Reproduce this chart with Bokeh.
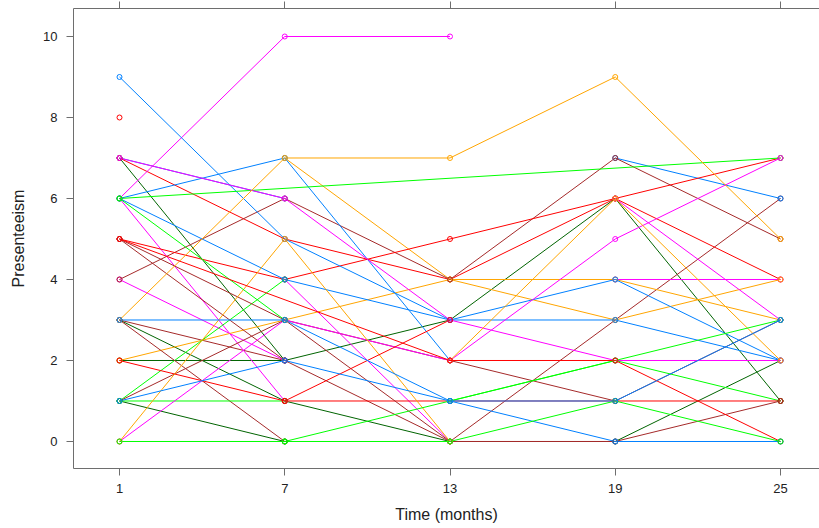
import math
from bokeh.plotting import figure
from bokeh.models import Range1d, LinearAxis, FixedTicker, ColumnDataSource
from bokeh.embed import file_html
from bokeh.resources import INLINE

N = None
# Observation times (months) and tick labels
times = [1, 7, 13, 19, 25]
y_ticks = [0, 2, 4, 6, 8, 10]

# Presenteeism per subject at each time (None = not observed)
t1 = [7, 3, 2, 1, 7, 3, N, 7, 4, N, 2, N, 4, 6, 6, 6, N, 5, 1, 9, 6, 3,
      1, 1, N, 2, 5, 5, N, 6, 0, 7, 0, 3, N, N, 6, 0, 5, 1, N, 3, 8]
t7 = [2, 1, 2, 0, 6, 2, N, 5, 2, N, 3, 7, 6, 7, 10, 1, 4, 4, 4, 5, 4, 0,
      3, 1, N, 1, 3, 2, N, N, 3, 6, 5, 7, N, 1, 3, 0, N, 2, 0, 3, N]
t13 = [3, 0, N, N, N, 0, N, 4, N, N, 4, 4, 4, 2, 10, N, 0, 5, N, 3, 3, N,
       2, N, 1, 1, 0, N, N, N, 2, 3, 0, 7, 2, 3, N, 1, 2, 1, 0, 1, N]
t19 = [6, 0, N, N, N, 3, 7, 6, N, 4, 4, 3, 7, N, N, N, N, 6, N, 3, 4, N,
       1, N, 2, 1, 0, N, 6, N, 5, 2, N, 9, 6, N, N, 2, 2, 0, 1, 1, N]
t25 = [1, 2, N, N, N, 6, 6, 4, N, 4, 3, 4, 5, N, N, N, N, 7, N, 2, 2, N,
       3, N, 1, 1, 1, N, 3, 7, 7, 2, N, 5, 2, N, N, 3, 0, 0, 0, 3, N]
# Group (superpose colour index) of each subject
group = [2, 2, 2, 2, 0, 6, 0, 3, 1, 1, 4, 4, 6, 0, 1, 1, 1, 3, 5, 0, 0, 6,
         6, 5, 5, 3, 6, 6, 1, 5, 1, 1, 4, 4, 4, 3, 5, 5, 3, 0, 5, 0, 3]

palette = ["#0080ff", "#ff00ff", "#006400", "#ff0000", "#ffa500", "#00ff00", "#a52a2a"]

xs, ys, cols = [], [], []
px, py, pc = [], [], []
for i in range(len(group)):
    vals = [t1[i], t7[i], t13[i], t19[i], t25[i]]
    sx = [t for t, v in zip(times, vals) if v is not None]
    sy = [v for v in vals if v is not None]
    c = palette[group[i]]
    if len(sx) > 1:
        xs.append(sx); ys.append(sy); cols.append(c)
    px.extend(sx); py.extend(sy); pc.extend([c] * len(sx))

p = figure(width=819, height=528, output_backend="svg", toolbar_location=None,
           x_range=Range1d(-0.6702, 26.416), y_range=Range1d(-0.6667, 10.691),
           x_axis_location=None, y_axis_location=None,
           min_border_left=73, min_border_right=0, min_border_top=8,
           min_border_bottom=60)
p.outline_line_color = None
p.grid.visible = False
p.background_fill_color = "white"
p.border_fill_color = "white"

AX = "#6e6e6e"
TXT = "#222222"
FONT = "Liberation Sans"

left = LinearAxis(ticker=FixedTicker(ticks=y_ticks), axis_label="Presenteeism")
below = LinearAxis(ticker=FixedTicker(ticks=times), axis_label="Time (months)")
for ax in (left, below):
    ax.axis_line_color = AX
    ax.major_tick_line_color = AX
    ax.major_tick_out = 7
    ax.major_tick_in = 0
    ax.minor_tick_line_color = None
    ax.major_label_text_font = FONT
    ax.major_label_text_font_size = "13px"
    ax.major_label_text_color = TXT
    ax.axis_label_text_font = FONT
    ax.axis_label_text_font_size = "16px"
    ax.axis_label_text_font_style = "normal"
    ax.axis_label_text_color = TXT
left.major_label_standoff = 9
left.axis_label_standoff = 13
below.major_label_standoff = 8
below.axis_label_standoff = 10

# top frame edge with tick marks only (no labels)
top = LinearAxis(ticker=FixedTicker(ticks=times))
top.axis_line_color = AX
top.major_tick_line_color = AX
top.major_tick_out = 7
top.major_tick_in = 0
top.minor_tick_line_color = None
top.major_label_standoff = 0
top.major_label_overrides = {t: "" for t in times}

p.add_layout(left, "left")
p.add_layout(below, "below")
p.add_layout(top, "above")

p.multi_line(xs=xs, ys=ys, line_color=cols, line_width=1)
p.scatter(x=px, y=py, marker="circle", size=5, fill_color=None,
          line_color=pc, line_width=1)

open("out.html", "w").write(file_html(p, INLINE))
